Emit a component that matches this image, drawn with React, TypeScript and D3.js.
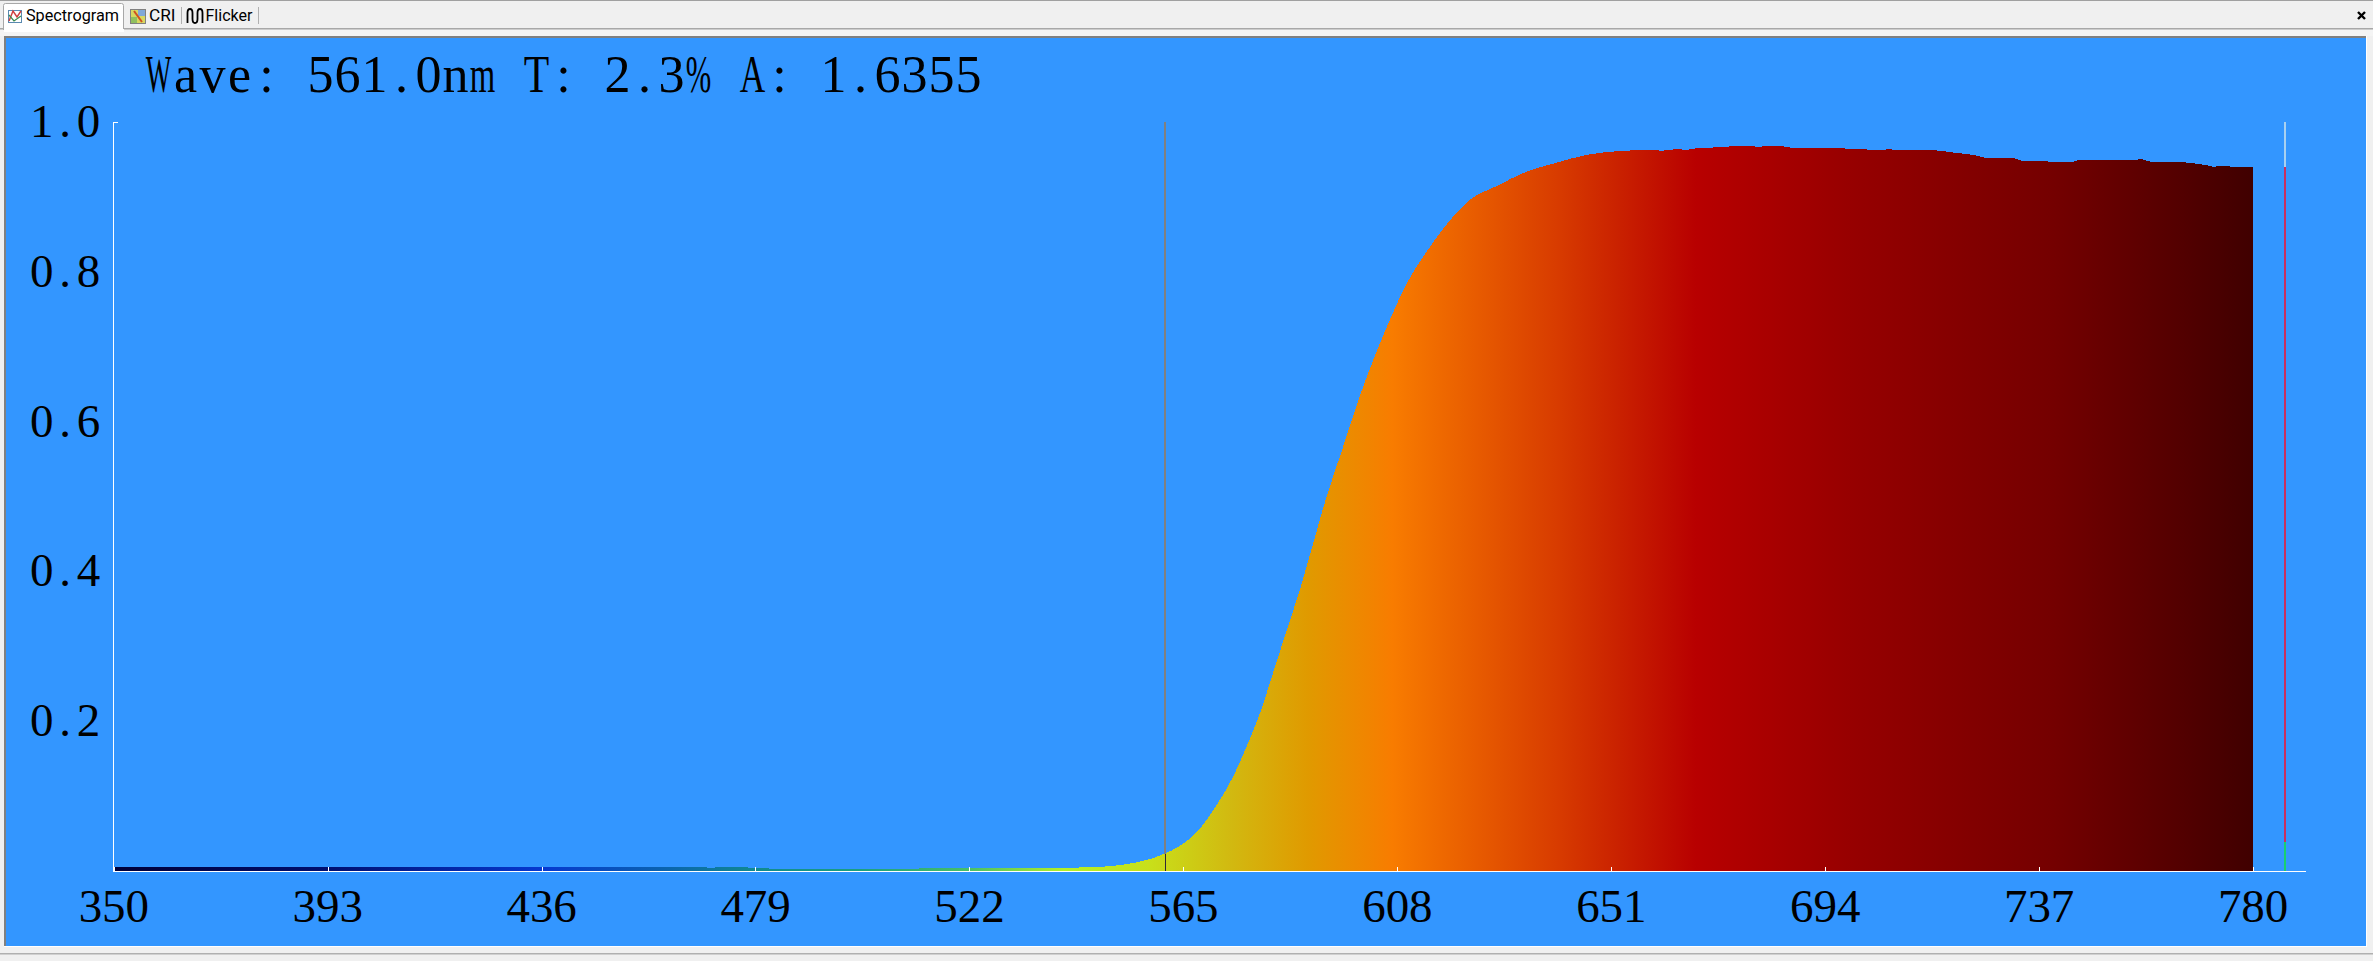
import { useMemo } from 'react';
import * as d3 from 'd3';

const WIDTH = 2373;
const HEIGHT = 961;

// values
const wavelengths = [
  350, 393, 436, 466, 470, 474, 484, 500, 522, 540, 541, 549, 555, 558.3, 561.4, 564.3, 568.4, 571.7, 575, 577.7,
  580.4, 583.1, 585.8, 588.4, 591.1, 593.8, 596.8, 600.2, 606.5, 609.9, 613.2, 617.3, 622.6, 628, 634, 640, 646,
  652.8, 658.8, 661.2, 664.4, 666, 667.9, 669.9, 673.9, 678.3, 680.4, 683.4, 686.2, 687.4, 696.2, 698.5, 701.7,
  703.3, 707.2, 708.5, 714.8, 718, 720, 722.4, 724.8, 726.4, 731.9, 733.5, 738.7, 739, 743.9, 744.8, 755, 757.7,
  759.7, 764.9, 768, 770.8, 772, 774, 776, 780,
];
const absorbance = [
  0.0053, 0.0053, 0.0053, 0.0053, 0.0045, 0.0053, 0.003, 0.003, 0.0036, 0.0036, 0.004, 0.0058, 0.0107, 0.016, 0.0236,
  0.0335, 0.057, 0.088, 0.126, 0.166, 0.2105, 0.266, 0.322, 0.375, 0.4375, 0.5, 0.56, 0.629, 0.7356, 0.7846, 0.82,
  0.858, 0.896, 0.9146, 0.9337, 0.9456, 0.956, 0.9613, 0.9626, 0.9617, 0.9639, 0.9626, 0.9648, 0.9653, 0.967, 0.968,
  0.967, 0.968, 0.967, 0.9653, 0.9653, 0.9644, 0.9639, 0.9626, 0.9635, 0.9626, 0.9626, 0.9608, 0.959, 0.9573, 0.9546,
  0.952, 0.952, 0.9483, 0.9483, 0.9466, 0.9466, 0.9493, 0.9493, 0.9502, 0.9466, 0.9466, 0.9448, 0.9421, 0.9403, 0.9413,
  0.9403, 0.9403,
];

const colorStops = [350, 393, 436, 460, 479, 500, 522, 541, 558, 575, 590, 607, 640, 668, 700, 740, 780];
const colorValues = [
  '#000038', '#000f70', '#0638d0', '#0a62b0', '#108a90', '#1aa080', '#48c068', '#b4f028', '#c8e01a', '#d2b810',
  '#e09a00', '#f87c00', '#d83c00', '#b80000', '#960000', '#740000', '#400000',
];

const xTicks = [350, 393, 436, 479, 522, 565, 608, 651, 694, 737, 780];
const yTicks = [0.2, 0.4, 0.6, 0.8, 1.0];
const readout = 'Wave: 561.0nm T: 2.3% A: 1.6355';
const cursorNm = 561.3;
const markerNm = 786.5;
const markerSplit = [0.94, 0.039];

const serif = '"Liberation Serif", serif';
const sans = 'Roboto, "Noto Sans", sans-serif';
// natural em widths of the glyphs that do not fit a cell
const wideGlyphs: Record<string, number> = { W: 0.944, T: 0.611, A: 0.722, m: 0.778, '%': 0.833 };

// the original font is fixed width: one text per cell, wide glyphs squeezed into it
const Cells = ({ text, left, y, advance, size }: { text: string; left: number; y: number; advance: number; size: number }) => (
  <>
    {text.split('').map((c, i) => {
      const cx = left + advance * (i + 0.5);
      const squeeze = wideGlyphs[c] ? (advance - 1.5) / (wideGlyphs[c] * size) : 1;
      return (
        <text key={i} transform={`translate(${cx},${y}) scale(${squeeze},1)`} fontSize={size}>
          {c}
        </text>
      );
    })}
  </>
);

export default function App() {
  const x = useMemo(() => d3.scaleLinear().domain([350, 780]).range([113.7, 2253]), []);
  const y = useMemo(() => d3.scaleLinear().domain([0, 1]).range([871, 122]), []);
  const points = wavelengths.map((w, i) => [w, absorbance[i]] as [number, number]);
  const areaPath = d3
    .area<[number, number]>()
    .curve(d3.curveMonotoneX)
    .x((d) => x(d[0]))
    .y0(y(0))
    .y1((d) => y(d[1]))(points) as string;
  const cursorTop = y(d3.scaleLinear().domain(wavelengths).range(absorbance)(cursorNm));

  return (
    <svg
      width={WIDTH}
      height={HEIGHT}
      viewBox={`0 0 ${WIDTH} ${HEIGHT}`}
      style={{ position: 'absolute', left: 0, top: 0, display: 'block' }}
    >
      <defs>
        <linearGradient id="spectrum" gradientUnits="userSpaceOnUse" x1={x(350)} x2={x(780)} y1={0} y2={0}>
          {colorStops.map((s, i) => (
            <stop key={s} offset={(s - 350) / 430} stopColor={colorValues[i]} />
          ))}
        </linearGradient>
      </defs>

      {/* window chrome */}
      <rect width={WIDTH} height={HEIGHT} fill="#f0f0f0" />
      <rect width={WIDTH} height={1} fill="#a0a0a0" />
      <rect y={28} width={WIDTH} height={1.5} fill="#a8a8a8" />
      <path d="M3.5 30V5.5q0-2 2-2h116q2 0 2 2V30z" fill="#ffffff" stroke="#a8a8a8" />
      <rect x={0} y={30} width={WIDTH} height={6} fill="#f4f4f4" />
      <rect x={4} y={29} width={120} height={3} fill="#ffffff" />

      {/* tab icons */}
      <rect x={8.5} y={10.5} width={13} height={12} fill="#ffffff" stroke="#5a8ab0" />
      <path d="M9 21l4-10 4 6 4-6" fill="none" stroke="#d04040" strokeWidth={1.5} />
      <path d="M9 15l5 6 7-5" fill="none" stroke="#3a8a50" strokeWidth={1.2} />
      <rect x={130.5} y={9.5} width={15} height={14} fill="#d8d860" stroke="#808080" />
      <rect x={138} y={10} width={7} height={6} fill="#80a8d8" />
      <rect x={131} y={17} width={6} height={6} fill="#90c060" />
      <path d="M134 11l8 11" stroke="#d05020" strokeWidth={2} />
      <path d="M187.5 23v-10q0-4 2.5-4t2.5 4v6q0 4 2.500 4t2.500-4v-6q0-4 2.500-4t2.500 4v10" fill="none" stroke="#000" strokeWidth={1.8} />
      <rect x={181} y={7} width={1} height={17} fill="#b0b0b0" />
      <rect x={258} y={7} width={1} height={17} fill="#b0b0b0" />
      <text x={26} y={21} fontFamily={sans} fontSize={16} textLength={93} lengthAdjust="spacingAndGlyphs" fill="#000">Spectrogram</text>
      <text x={149} y={21} fontFamily={sans} fontSize={16} textLength={26.5} lengthAdjust="spacingAndGlyphs" fill="#000">CRI</text>
      <text x={205.5} y={21} fontFamily={sans} fontSize={16} textLength={47} lengthAdjust="spacingAndGlyphs" fill="#000">Flicker</text>
      <path d="M2358 12l7 7M2365 12l-7 7" stroke="#000" strokeWidth={2.4} />

      {/* plot panel */}
      <rect x={4} y={36} width={2363} height={911} fill="#ffffff" />
      <rect x={4} y={36} width={2362} height={910} fill="#808080" />
      <rect x={6} y={38} width={2360} height={908} fill="#3396ff" />
      <rect y={953} width={WIDTH} height={1.5} fill="#b0b0b0" />

      <path d={areaPath} fill="url(#spectrum)" shapeRendering="crispEdges" />

      {/* axes */}
      <g fill="#ffffff" shapeRendering="crispEdges">
        <rect x={113} y={122} width={1} height={750} />
        <rect x={113} y={122} width={5} height={1} />
        <rect x={113} y={871} width={2193} height={1} />
        {xTicks.map((t) => (
          <rect key={t} x={Math.round(x(t))} y={867} width={1} height={4} />
        ))}
      </g>

      {/* cursor, dark where it crosses the filled area */}
      <rect x={1164} y={122} width={2} height={cursorTop - 122} fill="#808080" shapeRendering="crispEdges" />
      <rect x={1165} y={cursorTop} width={1} height={871 - cursorTop} fill="#302838" shapeRendering="crispEdges" />

      {/* reference marker right of the range */}
      <g shapeRendering="crispEdges">
        <rect x={2284} y={y(1)} width={2} height={y(markerSplit[0]) - y(1)} fill="#a8d0f0" />
        <rect x={2284} y={y(markerSplit[0])} width={2} height={y(markerSplit[1]) - y(markerSplit[0])} fill="#c83060" />
        <rect x={2284} y={y(markerSplit[1])} width={2} height={y(0) - y(markerSplit[1])} fill="#18d070" />
      </g>

      {/* labels */}
      <g fontFamily={serif} fill="#000000" textAnchor="middle">
        <Cells text={readout} left={145} y={92} advance={27} size={52} />
        {xTicks.map((t) => (
          <Cells key={t} text={String(t)} left={x(t) - 35} y={921.5} advance={23.4} size={47} />
        ))}
        {yTicks.map((t) => (
          <Cells key={t} text={t.toFixed(1)} left={30} y={y(t) + 15} advance={23.4} size={47} />
        ))}
      </g>
    </svg>
  );
}
